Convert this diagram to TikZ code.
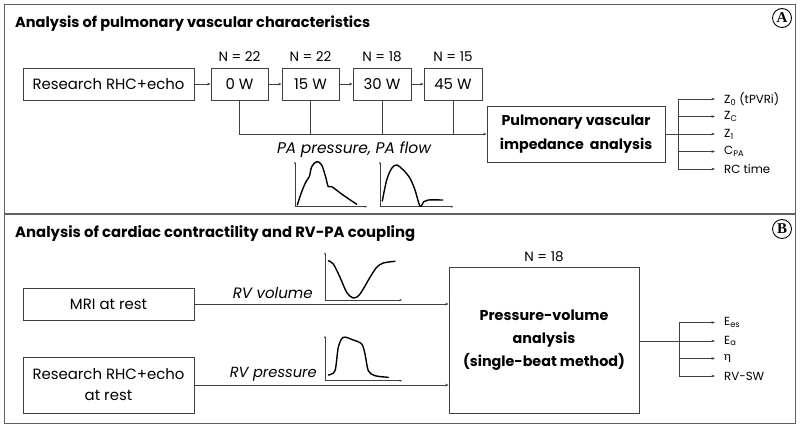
\documentclass[tikz,border=0pt]{standalone}
\usepackage{fontspec}
\setmainfont{Poppins}
\newfontfamily\circfont{Liberation Serif}
\newfontfamily\grkfont{Lato}
\usetikzlibrary{arrows.meta}
\definecolor{ln}{HTML}{404040}
\definecolor{frame}{HTML}{606060}
\newlength\fitlen
% #1 target width (pt), #2 font switches, #3 sample text, #4 baselineskip (pt)
\newcommand\fitfont[4]{%
  \settowidth\fitlen{\fontsize{10pt}{12pt}\selectfont#2#3}%
  \pgfmathsetmacro\fitsize{10*#1/\fitlen}%
  \fontsize{\fitsize pt}{#4pt}\selectfont#2}
\tikzset{
  panel/.style={draw=frame, line width=0.9pt},
  box/.style={draw=ln, line width=0.7pt, inner sep=0pt, align=center,
    font={\fitfont{152}{}{Research RHC+echo}{21}}},
  bbox/.style={draw=ln, line width=0.7pt, inner sep=0pt, align=center},
  conn/.style={draw=ln, line width=0.6pt},
  arr/.style={conn, -{Stealth[length=3.5pt,width=2.6pt]}},
  nlab/.style={inner sep=0pt, font={\fitfont{42}{}{N = 22}{14}}},
  outlab/.style={anchor=west, inner xsep=9pt, inner ysep=0pt, font={\fitfont{46}{}{RC time}{14}}},
  title/.style={anchor=west, inner sep=0pt},
  ital/.style={inner sep=0pt},
  tag/.style={draw=black, circle, line width=0.9pt, inner sep=0.5pt, minimum size=19pt, font=\circfont\fontsize{15}{15}\bfseries\selectfont},
  axis/.style={draw=ln, line width=0.6pt, -{Stealth[length=2.5pt,width=2pt]}},
  curve/.style={draw=black, line width=1.4pt, line join=round, line cap=round}
}
\begin{document}
\begin{tikzpicture}[x=1pt,y=-1pt]
\useasboundingbox (0,0) rectangle (800,428);
\fill[white] (0,0) rectangle (800,428);
% panels
\draw[panel] (4.5,4.5) rectangle (795.5,213);
\draw[panel] (4.5,214.5) rectangle (795.5,423.5);
\node[title, font={\fitfont{355}{\bfseries}{Analysis of pulmonary vascular characteristics}{18}}] (ta) at (15,24) {Analysis of pulmonary vascular characteristics};
\node[title, font={\fitfont{400}{\bfseries}{Analysis of cardiac contractility and RV-PA coupling}{18}}] (tb) at (15,234) {Analysis of cardiac contractility and RV-PA coupling};
\node[tag] (tagA) at (782,18) {A};
\node[tag] (tagB) at (782,229) {B};

% ---- Panel A ----
\node[box, minimum width=171pt, minimum height=32pt] (rhc) at (108.5,84) {Research RHC+echo};
\node[box, minimum width=57pt, minimum height=32pt] (w0) at (239.5,84) {0 W};
\node[box, minimum width=57pt, minimum height=32pt] (w15) at (310.5,84) {15 W};
\node[box, minimum width=58pt, minimum height=32pt] (w30) at (382,84) {30 W};
\node[box, minimum width=58pt, minimum height=32pt] (w45) at (453,84) {45 W};
\node[nlab] (n0) at (239.5,57) {N = 22};
\node[nlab] (n15) at (310.5,57) {N = 22};
\node[nlab] (n30) at (382,57) {N = 18};
\node[nlab] (n45) at (453,57) {N = 15};
\draw[arr] (rhc) -- (w0);
\draw[arr] (w0) -- (w15);
\draw[arr] (w15) -- (w30);
\draw[arr] (w30) -- (w45);

\node[bbox, minimum width=178pt, minimum height=56pt, font={\fitfont{149}{\bfseries}{Pulmonary vascular}{24}}] (pulm) at (576,134) {Pulmonary vascular\\impedance\ \ analysis};
\draw[arr] (w0.south) -- (w0.south |- pulm.west) -- (pulm.west);
\draw[conn] (w15.south) -- (w15.south |- pulm.west);
\draw[conn] (w30.south) -- (w30.south |- pulm.west);
\draw[conn] (w45.south) -- (w45.south |- pulm.west);

\node[ital, font={\fitfont{154}{\itshape}{PA pressure, PA flow}{18}}] (paf) at (354,150) {PA pressure, PA flow};

% graph 1
\draw[axis] (295,206.7) -- (295,161.7);
\draw[axis] (295,206.7) -- (367,206.7);
\draw[curve] plot[smooth, tension=0.55] coordinates {(297.3,205) (301.7,191.7) (306,181.7) (309.3,176.7) (311.7,166.7) (316.7,161.7) (321.7,165) (326,178.3) (328.3,186.7) (331.7,186.7) (343,195) (356.7,204.3)};
% graph 2
\draw[axis] (380,206.7) -- (380,161.7);
\draw[axis] (380,206.7) -- (453.3,206.7);
\draw[curve] plot[smooth, tension=0.55] coordinates {(382.3,201) (386.7,180) (391.7,168.3) (396.7,165) (403.3,170) (410,178.3) (415,190) (420,206) (424,201.5) (428.3,200) (442.7,200)};

% outputs A
\coordinate (ja) at (678,134);
\draw[conn] (pulm.east) -- (ja);
\node[outlab] (z0) at (715,99) {Z\textsubscript{0} (tPVRi)};
\node[outlab] (zc) at (715,116.5) {Z\textsubscript{C}};
\node[outlab] (z1) at (715,134) {Z\textsubscript{1}};
\node[outlab] (cpa) at (715,151.5) {C\textsubscript{PA}};
\node[outlab] (rct) at (715,169) {RC time};
\draw[conn] (ja |- z0.west) -- (ja |- rct.west);
\foreach \n in {z0,zc,z1,cpa,rct}{\draw[arr] (ja |- \n.west) -- (\n.west);}

% ---- Panel B ----
\node[box, minimum width=171pt, minimum height=32pt] (mri) at (108.5,304) {MRI at rest};
\node[box, minimum width=171pt, minimum height=56pt] (rhcr) at (108.5,385) {Research RHC+echo\\at rest};
\node[bbox, minimum width=190pt, minimum height=146pt, font={\fitfont{162}{\bfseries}{(single-beat method)}{23}}] (pv) at (544,340) {Pressure-volume\\analysis\\(single-beat method)};
\node[nlab] (n18) at (544,257) {N = 18};
\draw[arr] (mri.east) -- (mri.east -| pv.west);
\draw[arr] (rhcr.east) -- (rhcr.east -| pv.west);
\node[ital, anchor=east, font={\fitfont{80}{\itshape}{RV volume}{18}}] (rvv) at (313,293) {RV volume};
\node[ital, anchor=east, font={\fitfont{87}{\itshape}{RV pressure}{18}}] (rvp) at (317,374) {RV pressure};

% graph RV volume
\draw[axis] (325,300) -- (325,252.3);
\draw[axis] (325,300) -- (402,300);
\draw[curve] plot[smooth, tension=0.55] coordinates {(328.3,260.7) (333.3,264) (340,277.3) (346.7,292.3) (353.3,298) (360,294) (370,277.3) (376.7,267.3) (383.3,263) (395,261.3)};
% graph RV pressure
\draw[axis] (325,380.7) -- (325,335.7);
\draw[axis] (325,380.7) -- (402,380.7);
\draw[curve] plot[smooth, tension=0.5] coordinates {(328.3,375) (335,370.7) (338.3,347.3) (343.3,337.3) (353.3,340) (361.7,344) (365,354) (368.3,370.7) (375,375.7) (388.3,377.3)};

% outputs B
\coordinate (jb) at (679,341);
\draw[conn] (pv.east |- jb) -- (jb);
\node[outlab] (ees) at (715,322.5) {E\textsubscript{es}};
\node[outlab] (ea) at (715,341) {E\textsubscript{a}};
\node[outlab] (eta) at (715,358.5) {\grkfont η};
\node[outlab] (rvsw) at (715,376) {RV-SW};
\draw[conn] (jb |- ees.west) -- (jb |- rvsw.west);
\foreach \n in {ees,ea,eta,rvsw}{\draw[arr] (jb |- \n.west) -- (\n.west);}
\end{tikzpicture}
\end{document}
